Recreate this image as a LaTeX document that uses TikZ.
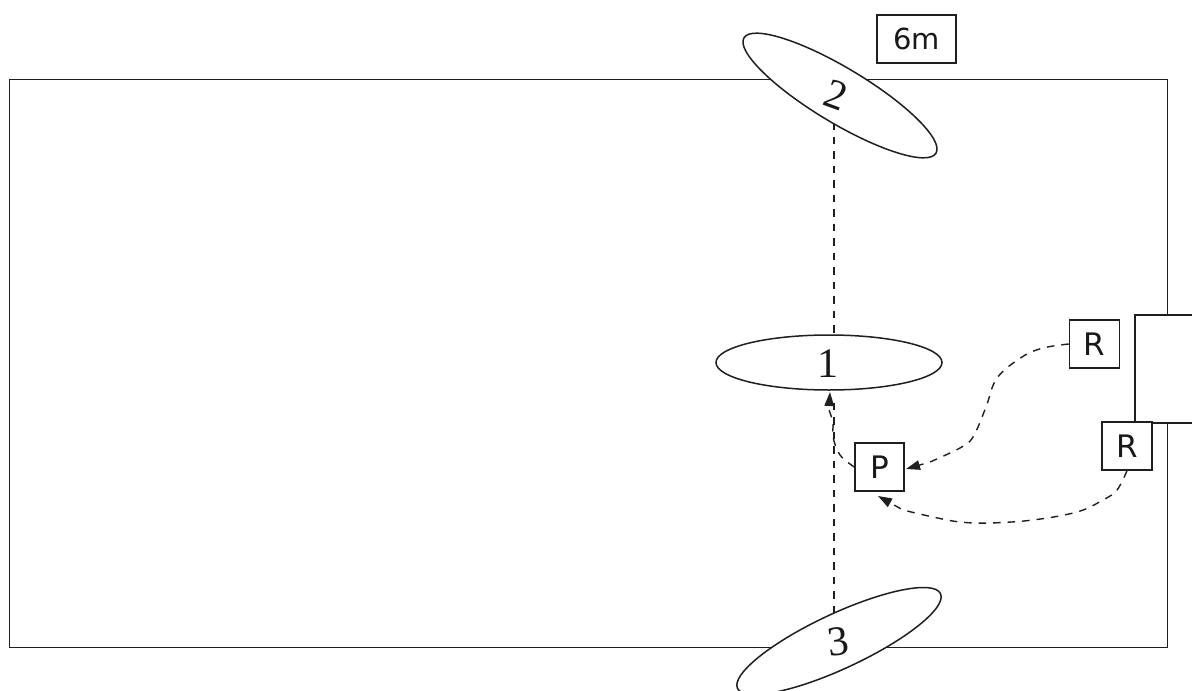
\documentclass[tikz,border=0pt]{standalone}
\usepackage{fontspec}
\setmainfont{Liberation Serif}
\newfontfamily\labelsans{DejaVu Sans}
\usetikzlibrary{shapes.geometric,arrows.meta}
\tikzset{
  ink/.style={draw=black!88,line width=1.5pt},
  zone/.style={ink,fill=white,ellipse,inner sep=0pt},
  digit/.style={inner sep=0pt,font=\fontsize{42}{44}\selectfont,text=black!90},
  tagbox/.style={ink,fill=white,inner sep=0pt,font=\labelsans\fontsize{29}{31}\selectfont,text=black!90},
  rbox/.style={tagbox,font=\labelsans\fontsize{31}{33}\selectfont},
  route/.style={draw=black!88,line width=1.4pt,dash pattern=on 7.5pt off 7pt},
  routehead/.style={-{Triangle[length=14pt,width=9.5pt]}}
}
\begin{document}
\begin{tikzpicture}[x=1pt,y=-1pt]
\useasboundingbox (0,0) rectangle (1192,691);
\fill[white] (0,0) rectangle (1192,691);
\node[ink,fill=none,minimum width=1158pt,minimum height=568pt,inner sep=0pt,anchor=north west] (hall) at (8.5,78.5) {};
\node[ink,fill=white,minimum width=70pt,minimum height=108pt,inner sep=0pt,anchor=north west] (door) at (1134,314) {};
\coordinate (a2) at (834,122);
\coordinate (a1) at (834,335);
\coordinate (a3) at (834,613);
\coordinate (a1b) at (834,396);
\draw[route] (a2) -- (a1);
\draw[route] (a3) -- (a1b);
\node[zone,minimum width=224pt,minimum height=55pt,rotate=-31] (E2) at (840,95.5) {};
\node[zone,minimum width=226pt,minimum height=55pt] (E1) at (829,362.5) {};
\node[zone,minimum width=224pt,minimum height=55pt,rotate=25] (E3) at (839,641) {};
\node[digit,rotate=-20] (n2) at (836,95) {2};
\node[digit] (n1) at (828,364) {1};
\node[digit,rotate=7] (n3) at (838,642) {3};
\node[tagbox,minimum width=79pt,minimum height=48pt] (tag) at (916.5,39) {6m};
\node[rbox,minimum width=50pt,minimum height=48pt] (R1) at (1094.5,344) {R};
\node[rbox,minimum width=50pt,minimum height=48pt] (R2) at (1127,446) {R};
\node[rbox,minimum width=49pt,minimum height=48pt] (P) at (879.5,467) {P};
\draw[route,routehead] plot[smooth,tension=0.6] coordinates {(R1.west) (1043,348) (1022,357) (997,378) (986,407) (973,437) (960,448) (930,462)} -- (906,469);
\draw[route,routehead] plot[smooth,tension=0.6] coordinates {(R2.south) (1117,490) (1103,500) (1077,512) (1033,520) (990,523) (960,522) (933,517) (903,510)} -- (878,496);
\draw[route,routehead] plot[smooth,tension=0.6] coordinates {(P.west) (840,455) (833,437) (833,423) (829,410)} -- (830,392);
\end{tikzpicture}
\end{document}
